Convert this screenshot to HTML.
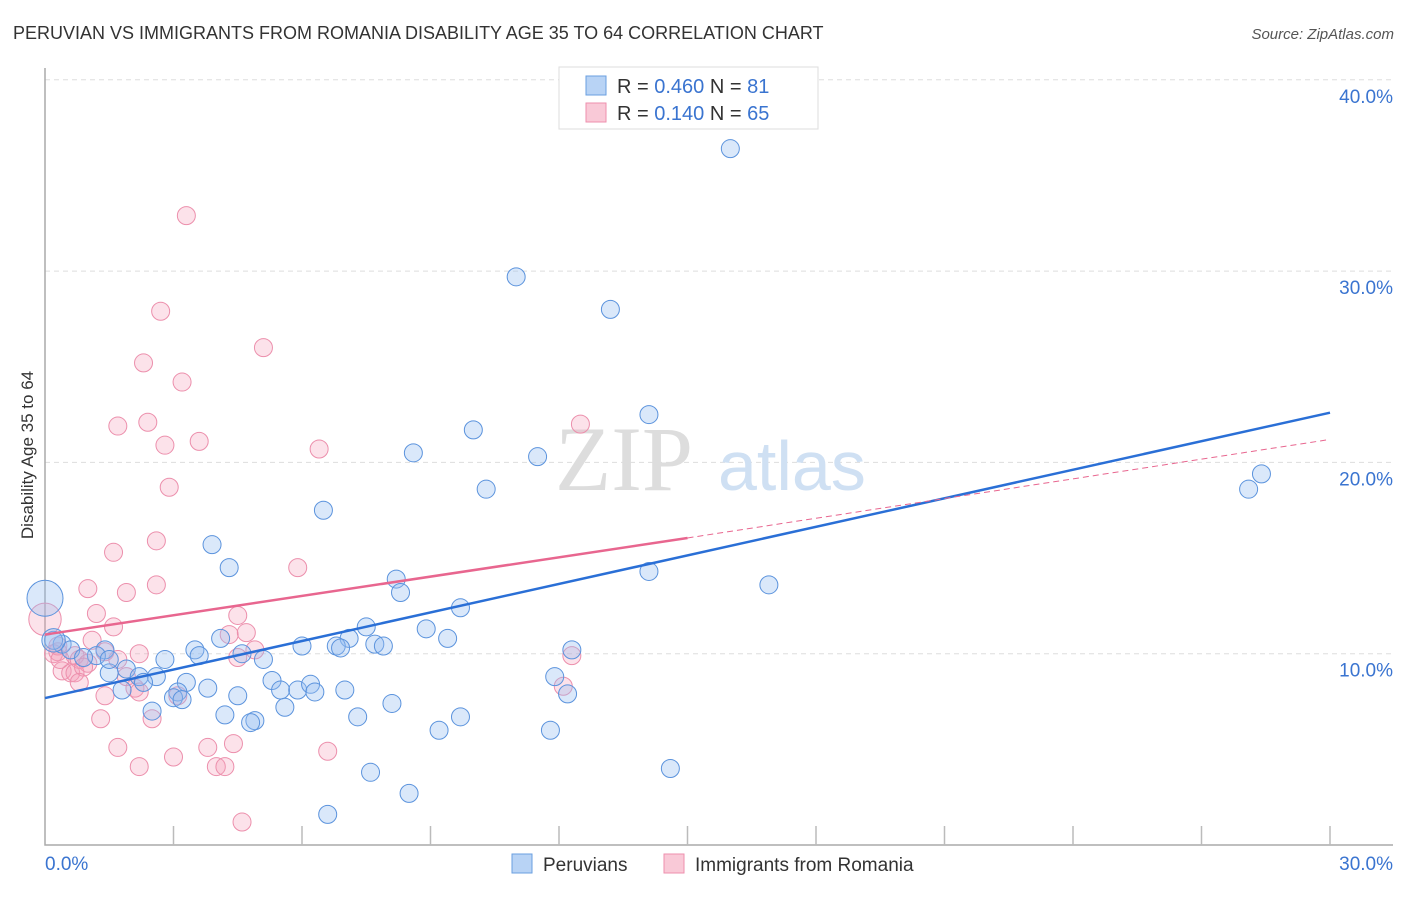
<!DOCTYPE html>
<html><head><meta charset="utf-8"><style>
body{margin:0;background:#fff;font-family:"Liberation Sans",sans-serif}
</style></head><body>
<svg id="c" width="1406" height="892" xmlns="http://www.w3.org/2000/svg" font-family="Liberation Sans, sans-serif">
<text x="13" y="39" font-size="18" fill="#333">PERUVIAN VS IMMIGRANTS FROM ROMANIA DISABILITY AGE 35 TO 64 CORRELATION CHART</text>
<text x="1394" y="39" font-size="15" fill="#555" text-anchor="end" font-style="italic">Source: ZipAtlas.com</text>
<text transform="translate(33,455) rotate(-90)" font-size="17" fill="#333" text-anchor="middle">Disability Age 35 to 64</text>
<g id="grid"></g>
<text x="555" y="490" font-size="92" fill="#ddd" font-family="Liberation Serif, serif">ZIP</text>
<text x="718" y="490" font-size="70" fill="#cfe0f3">atlas</text>
<g id="pts"></g>
<g id="lines"></g>
<g>
<rect x="559" y="67" width="259" height="62" fill="#fff" stroke="#ddd"/>
<rect x="586" y="76" width="20" height="19" fill="#b8d3f5" stroke="#6a9fe0"/>
<rect x="586" y="103" width="20" height="19" fill="#f9c9d7" stroke="#ee8fae"/>
<text x="617" y="93" font-size="20" fill="#333">R = <tspan fill="#3a74d0">0.460</tspan>   N = <tspan fill="#3a74d0">81</tspan></text>
<text x="617" y="120" font-size="20" fill="#333">R =  <tspan fill="#3a74d0">0.140</tspan>   N = <tspan fill="#3a74d0">65</tspan></text>
</g>
<g>
<rect x="512" y="854" width="20" height="19" fill="#b8d3f5" stroke="#6a9fe0"/>
<text x="543" y="871" font-size="19" fill="#333">Peruvians</text>
<rect x="664" y="854" width="20" height="19" fill="#f9c9d7" stroke="#ee8fae"/>
<text x="695" y="871" font-size="19" fill="#333">Immigrants from Romania</text>
</g>
</svg>
<script>
const yTicks=[10,20,30,40];
const xTickLabels=["0.0%","30.0%"];
const blueX=[16.0,11.0,13.2,14.1,10.0,8.6,11.5,10.3,28.1,28.4,6.5,3.9,4.3,14.1,16.9,8.2,8.3,9.7,7.5,8.9,9.4,7.1,4.1,6.0,6.8,6.9,7.7,7.9,12.3,4.6,5.1,3.5,3.6,2.8,1.4,1.2,0.4,0.2,0.6,0.9,1.9,1.5,2.2,2.6,1.5,1.8,2.3,3.3,5.3,5.5,5.9,6.2,6.3,7.0,3.8,4.5,3.1,3.0,3.2,2.5,8.1,5.6,11.9,12.2,4.2,4.9,4.8,7.3,9.7,9.2,11.8,14.6,7.6,8.5,6.6,0.0,0.2];
const blueY=[36.4,29.7,28.0,22.5,21.7,20.5,20.3,18.6,18.6,19.4,17.5,15.7,14.5,14.3,13.6,13.9,13.2,12.4,11.4,11.3,10.8,10.8,10.8,10.4,10.4,10.3,10.5,10.4,10.2,10.0,9.7,10.2,9.9,9.7,10.2,9.9,10.5,10.7,10.2,9.8,9.2,9.0,8.8,8.8,9.7,8.1,8.5,8.5,8.6,8.1,8.1,8.4,8.0,8.1,8.2,7.8,8.0,7.7,7.6,7.0,7.4,7.2,8.8,7.9,6.8,6.5,6.4,6.7,6.7,6.0,6.0,4.0,3.8,2.7,1.6,12.9,10.7];
const blueR=[10,10,10,10,10,10,10,10,10,10,10,10,10,10,10,10,10,10,10,10,10,10,10,10,10,10,10,10,10,10,10,10,10,10,10,10,10,10,10,10,10,10,10,10,10,10,10,10,10,10,10,10,10,10,10,10,10,10,10,10,10,10,10,10,10,10,10,10,10,10,10,10,10,10,10,20,13];
const pinkX=[3.3,2.7,5.1,2.3,3.2,1.7,2.4,2.8,3.6,6.4,2.9,12.5,2.6,1.6,2.6,5.9,1.0,1.9,1.2,4.5,1.6,4.3,4.7,1.1,2.2,1.4,0.3,0.7,0.3,0.8,1.0,0.4,0.6,0.7,0.9,1.7,1.9,2.1,2.2,0.8,1.4,1.3,2.5,3.1,4.5,4.9,12.3,12.1,1.7,3.8,3.0,4.4,2.2,4.0,4.2,6.6,4.6,0.0,0.2,0.35];
const pinkY=[32.9,27.9,26.0,25.2,24.2,21.9,22.1,20.9,21.1,20.7,18.7,22.0,15.9,15.3,13.6,14.5,13.4,13.2,12.1,12.0,11.4,11.0,11.1,10.7,10.0,10.1,10.1,9.9,10.4,9.7,9.5,9.1,9.0,9.0,9.3,9.7,8.8,8.2,8.0,8.5,7.8,6.6,6.6,7.8,9.8,10.2,9.9,8.3,5.1,5.1,4.6,5.3,4.1,4.1,4.1,4.9,1.2,11.8,10.0,9.7];
const pinkR=pinkX.map((_,i)=>i===57?18:10);
const blueLine=[[0,7.68],[30,22.6]];
const pinkSolid=[[0,11.0],[15,16.05]];
const pinkDash=[[15,16.05],[30,21.2]];
const NS="http://www.w3.org/2000/svg";
const X=v=>45+v*(1285/30), Y=v=>845-v*19.13;
function mk(t,a,p){const e=document.createElementNS(NS,t);for(const k in a)e.setAttribute(k,a[k]);p.appendChild(e);return e;}
const g=document.getElementById('grid');
yTicks.forEach(t=>{
 const l=mk('line',{x1:45,x2:1393,y1:Y(t),y2:Y(t),stroke:'#ddd','stroke-dasharray':'5,4'},g);
 
 
 const tx=mk('text',{x:1393,y:Y(t)+23,'font-size':19,fill:'#3a74d0','text-anchor':'end'},g);
 tx.textContent=t.toFixed(1)+'%';
 
 
});
const ax=mk('path',{d:'M45,68V845H1393',fill:'none',stroke:'#aaa','stroke-width':1.5},g);


for(let i=1;i<=10;i++){const tk=mk('line',{x1:X(i*3),x2:X(i*3),y1:826,y2:845,stroke:'#bbb','stroke-width':1.5},g);
 
 }
[[0,'start',45],[30,'end',1393]].forEach((d,i)=>{const tx=mk('text',{x:d[2],y:870,'font-size':19,fill:'#3a74d0','text-anchor':d[1]},g);tx.textContent=xTickLabels[i];
 
 });
const pg=document.getElementById('pts');
pinkX.forEach((v,i)=>{const c=mk('circle',{cx:X(v),cy:Y(pinkY[i]),r:pinkR[i]*0.9,fill:'rgba(245,160,185,0.3)',stroke:'#ec8fac','stroke-width':1},pg);
 
 });
blueX.forEach((v,i)=>{const c=mk('circle',{cx:X(v),cy:Y(blueY[i]),r:blueR[i]*0.9,fill:'rgba(150,190,240,0.35)',stroke:'#5b93dd','stroke-width':1},pg);
 
 });
const lg=document.getElementById('lines');
function ln(p,col,w,dash,name){const l=mk('line',{x1:X(p[0][0]),y1:Y(p[0][1]),x2:X(p[1][0]),y2:Y(p[1][1]),stroke:col,'stroke-width':w},lg);if(dash)l.setAttribute('stroke-dasharray',dash);
 
 }
ln(blueLine,'#2a6fd6',2.5,null,'peruvian-trend');
ln(pinkSolid,'#e8668f',2.5,null,'romania-trend');
ln(pinkDash,'#e8668f',1,'6,4','romania-trend-extension');
</script>
</body></html>
